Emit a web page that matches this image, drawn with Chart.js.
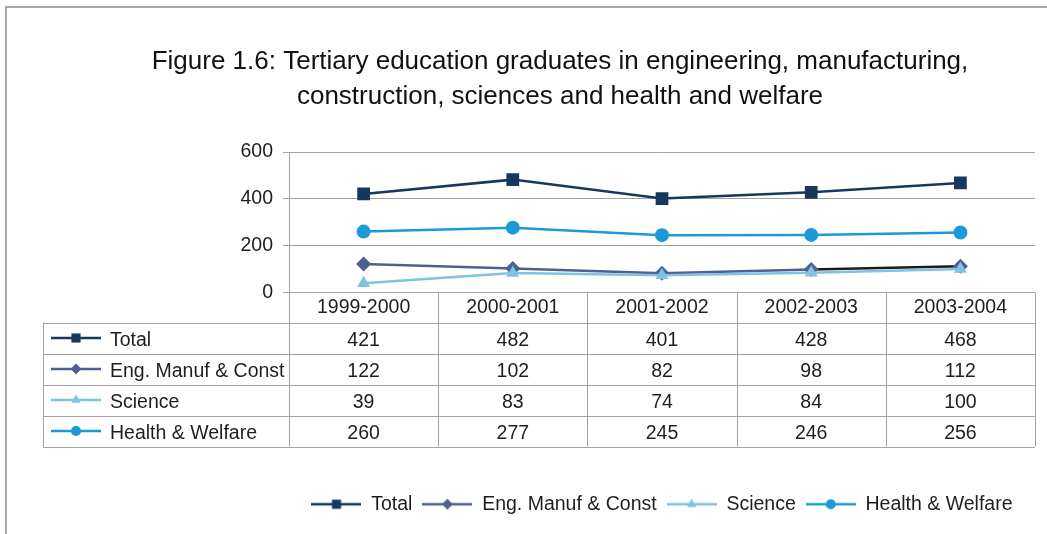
<!DOCTYPE html>
<html>
<head>
<meta charset="utf-8">
<title>Tertiary education graduates</title>
<script src="https://cdn.jsdelivr.net/npm/chart.js@4.4.1/dist/chart.umd.min.js"></script>
<style>
  html, body { margin: 0; padding: 0; background: #fff; }
  canvas { display: block; }
</style>
</head>
<body>
<canvas id="gradChart" width="1047" height="534"></canvas>
<script>
// Graduates by field of study, academic years 1999-2000 to 2003-2004
var categories = ['1999-2000', '2000-2001', '2001-2002', '2002-2003', '2003-2004'];
var totalValues = [421, 482, 401, 428, 468];
var engValues = [122, 102, 82, 98, 112];
var scienceValues = [39, 83, 74, 84, 100];
var healthValues = [260, 277, 245, 246, 256];
var yTicks = [0, 200, 400, 600];

var seriesNames = ['Total', 'Eng. Manuf & Const', 'Science', 'Health & Welfare'];
var seriesValues = [totalValues, engValues, scienceValues, healthValues];
var seriesColors = ['#17375e', '#4f5f8f', '#80c2e2', '#1c9ad8'];
var seriesMarkers = ['rect', 'rectRot', 'triangle', 'circle'];
var markerRadius = [9, 7.5, 7.5, 7];

var FONT = '"Liberation Sans", Arial, Helvetica, sans-serif';
var FONT_SIZE = 19.5;
var TEXT = '#1e1e1e';
var RULE = '#a3a3a3';

// small "line + marker" keys, used in the legend and in the table
function makeKey(color, style, radius) {
    var c = document.createElement('canvas');
    c.width = 50;
    c.height = 20;
    var g = c.getContext('2d');
    g.strokeStyle = color;
    g.lineWidth = 2.5;
    g.beginPath();
    g.moveTo(0, 10);
    g.lineTo(50, 10);
    g.stroke();
    g.fillStyle = color;
    Chart.helpers.drawPoint(g, { pointStyle: style, radius: radius, borderWidth: 0 }, 25, 10);
    return c;
}

var keys = seriesNames.map(function(name, i) {
    return makeKey(seriesColors[i], seriesMarkers[i], markerRadius[i] * 0.72);
});

// white page, frame lines and the data table under the x axis
var dataTable = {
    id: 'dataTable',
    beforeDraw: function(chart) {
        var ctx = chart.ctx;
        ctx.save();
        ctx.fillStyle = '#fff';
        ctx.fillRect(0, 0, chart.width, chart.height);
        ctx.strokeStyle = '#8a8a8a';
        ctx.lineWidth = 1.5;
        ctx.beginPath();
        ctx.moveTo(6, chart.height);
        ctx.lineTo(6, 7);
        ctx.lineTo(chart.width, 7);
        ctx.stroke();
        ctx.restore();
    },
    afterDraw: function(chart) {
        var ctx = chart.ctx;
        var area = chart.chartArea;
        var xs = chart.scales.x;
        var colW = (area.right - area.left) / categories.length;
        var tableLeft = 43;
        var headH = 30;
        var rowH = 31;
        var firstRow = area.bottom + headH;
        var tableBottom = firstRow + rowH * seriesNames.length;

        ctx.save();
        ctx.strokeStyle = RULE;
        ctx.lineWidth = 1;

        ctx.beginPath();
        for (var r = 0; r <= seriesNames.length; r++) {
            var y = Math.round(firstRow + r * rowH) + 0.5;
            ctx.moveTo(tableLeft, y);
            ctx.lineTo(area.right, y);
        }
        ctx.moveTo(tableLeft + 0.5, firstRow);
        ctx.lineTo(tableLeft + 0.5, tableBottom);
        for (var c = 0; c <= categories.length; c++) {
            var x = Math.round(area.left + c * colW) + 0.5;
            ctx.moveTo(x, area.bottom);
            ctx.lineTo(x, tableBottom);
        }
        ctx.stroke();

        ctx.fillStyle = TEXT;
        ctx.font = FONT_SIZE + 'px ' + FONT;
        ctx.textBaseline = 'middle';
        seriesNames.forEach(function(name, i) {
            var cy = firstRow + i * rowH + rowH / 2;
            ctx.drawImage(keys[i], tableLeft + 8, cy - 10);
            ctx.textAlign = 'left';
            ctx.fillText(name, tableLeft + 67, cy + 3);
            ctx.textAlign = 'center';
            seriesValues[i].forEach(function(v, j) {
                ctx.fillText(String(v), xs.getPixelForValue(j), cy + 3);
            });
        });
        ctx.restore();
    }
};

var datasets = seriesNames.map(function(name, i) {
    var ds = {
        label: name,
        data: seriesValues[i],
        borderColor: seriesColors[i],
        backgroundColor: seriesColors[i],
        borderWidth: 2.5,
        pointStyle: seriesMarkers[i],
        pointRadius: markerRadius[i],
        pointHoverRadius: markerRadius[i],
        pointBorderWidth: 0,
        tension: 0,
        order: [0, 2, 1, 3][i]
    };
    if (i === 1) {
        // last Eng. segment is drawn in near-black
        ds.segment = {
            borderColor: function(s) { return s.p0DataIndex === 3 ? '#1b1b1b' : undefined; }
        };
    }
    return ds;
});

new Chart(document.getElementById('gradChart'), {
    type: 'line',
    data: { labels: categories, datasets: datasets },
    options: {
        responsive: false,
        animation: false,
        devicePixelRatio: 1,
        layout: { padding: { left: 85, right: 12, top: 0, bottom: 10 } },
        scales: {
            x: {
                offset: true,
                grid: { display: false, drawTicks: false },
                border: { display: false },
                ticks: {
                    font: { family: FONT, size: FONT_SIZE },
                    color: TEXT,
                    padding: 3,
                    maxRotation: 0,
                    autoSkip: false
                },
                afterFit: function(axis) { axis.height = 192; }
            },
            y: {
                min: 0,
                max: 600,
                afterBuildTicks: function(axis) {
                    axis.ticks = yTicks.map(function(v) { return { value: v }; });
                },
                afterFit: function(axis) { axis.width = 204; },
                grid: { color: RULE, lineWidth: 1, tickLength: 6 },
                border: { color: RULE, width: 1 },
                ticks: {
                    font: { family: FONT, size: FONT_SIZE },
                    color: TEXT,
                    padding: 10
                }
            }
        },
        plugins: {
            title: {
                display: true,
                text: [
                    'Figure 1.6: Tertiary education graduates in engineering, manufacturing,',
                    'construction, sciences and health and welfare'
                ],
                color: '#111',
                font: { family: FONT, size: 26, weight: 'normal', lineHeight: 1.35 },
                padding: { top: 44.5, bottom: 37.3 }
            },
            legend: {
                position: 'bottom',
                fullSize: false,
                labels: {
                    usePointStyle: true,
                    pointStyleWidth: 50,
                    padding: 10,
                    color: TEXT,
                    font: { family: FONT, size: FONT_SIZE },
                    generateLabels: function() {
                        return seriesNames.map(function(name, i) {
                            return {
                                text: name,
                                pointStyle: keys[i],
                                fillStyle: seriesColors[i],
                                strokeStyle: seriesColors[i],
                                lineWidth: 0,
                                fontColor: TEXT,
                                hidden: false,
                                datasetIndex: i
                            };
                        });
                    }
                }
            },
            tooltip: { enabled: false }
        }
    },
    plugins: [dataTable]
});
</script>
</body>
</html>
